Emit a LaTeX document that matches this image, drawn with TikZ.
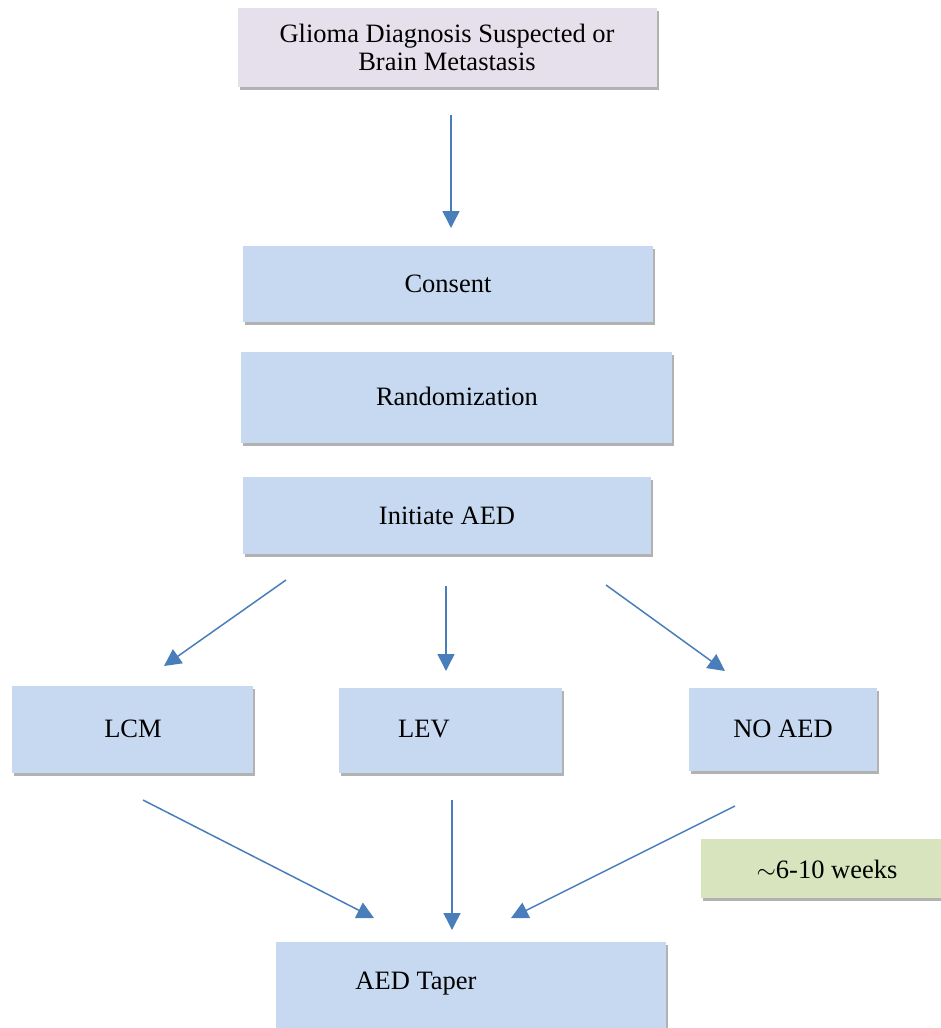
\documentclass[tikz,border=0pt]{standalone}
\usepackage{fontspec}
\setmainfont{Liberation Serif}
\usetikzlibrary{shadows,arrows.meta}
\definecolor{boxblue}{HTML}{C6D9F1}
\definecolor{boxpurple}{HTML}{E5E0EC}
\definecolor{boxgreen}{HTML}{D7E4BD}
\definecolor{arrowblue}{HTML}{4A7EBB}
\tikzset{
  box/.style={fill=#1, draw=none, anchor=north west, inner sep=0pt,
    drop shadow={shadow xshift=2pt, shadow yshift=-3pt, opacity=0.3, fill=black}},
  lbl/.style={font=\fontsize{26.5}{28}\selectfont, align=center, inner sep=0pt},
  conn/.style={draw=arrowblue, line width=1.5pt, -{Triangle[width=17pt,length=17pt]}}
}
\begin{document}
\begin{tikzpicture}[x=1pt,y=1pt]
\useasboundingbox (0,0) rectangle (940,-1028);
% boxes
\node[box=boxpurple, minimum width=419pt, minimum height=79pt] (top) at (238,-8) {};
\node[lbl] (toptext) at (447,-47) {Glioma Diagnosis Suspected or\\Brain Metastasis};
\node[box=boxblue, minimum width=410pt, minimum height=76pt] (consent) at (243,-246) {};
\node[lbl] (consenttext) at (448,-284) {Consent};
\node[box=boxblue, minimum width=431pt, minimum height=91pt] (rand) at (241,-352) {};
\node[lbl] (randtext) at (457,-396) {Randomization};
\node[box=boxblue, minimum width=408pt, minimum height=77pt] (init) at (243,-477) {};
\node[lbl] (inittext) at (447,-516) {Initiate AED};
\node[box=boxblue, minimum width=241pt, minimum height=87pt] (lcm) at (12,-686) {};
\node[lbl] (lcmtext) at (133,-729) {LCM};
\node[box=boxblue, minimum width=223pt, minimum height=85pt] (lev) at (339,-688) {};
\node[lbl] (levtext) at (424,-729) {LEV};
\node[box=boxblue, minimum width=188pt, minimum height=83pt] (noaed) at (689,-688) {};
\node[lbl] (noaedtext) at (783,-729) {NO AED};
\node[box=boxgreen, minimum width=245pt, minimum height=59pt] (weeks) at (701,-839) {};
\node[lbl] (weekstext) at (827,-869) {$\sim$6-10 weeks};
\node[box=boxblue, minimum width=390pt, minimum height=95pt] (taper) at (276,-942) {};
\node[lbl] (tapertext) at (416,-984) {AED Taper};
% connector end points
\coordinate (a1s) at (451,-115); \coordinate (a1e) at (451,-228);
\coordinate (b1s) at (286,-580); \coordinate (b1e) at (164,-666);
\coordinate (b2s) at (446,-586); \coordinate (b2e) at (446,-671);
\coordinate (b3s) at (606,-585); \coordinate (b3e) at (725,-671);
\coordinate (c1s) at (143,-800); \coordinate (c1e) at (374,-918);
\coordinate (c2s) at (452,-800); \coordinate (c2e) at (452,-930);
\coordinate (c3s) at (735,-806); \coordinate (c3e) at (511,-918);
\draw[conn] (a1s) -- (a1e);
\draw[conn] (b1s) -- (b1e);
\draw[conn] (b2s) -- (b2e);
\draw[conn] (b3s) -- (b3e);
\draw[conn] (c1s) -- (c1e);
\draw[conn] (c2s) -- (c2e);
\draw[conn] (c3s) -- (c3e);
\end{tikzpicture}
\end{document}
